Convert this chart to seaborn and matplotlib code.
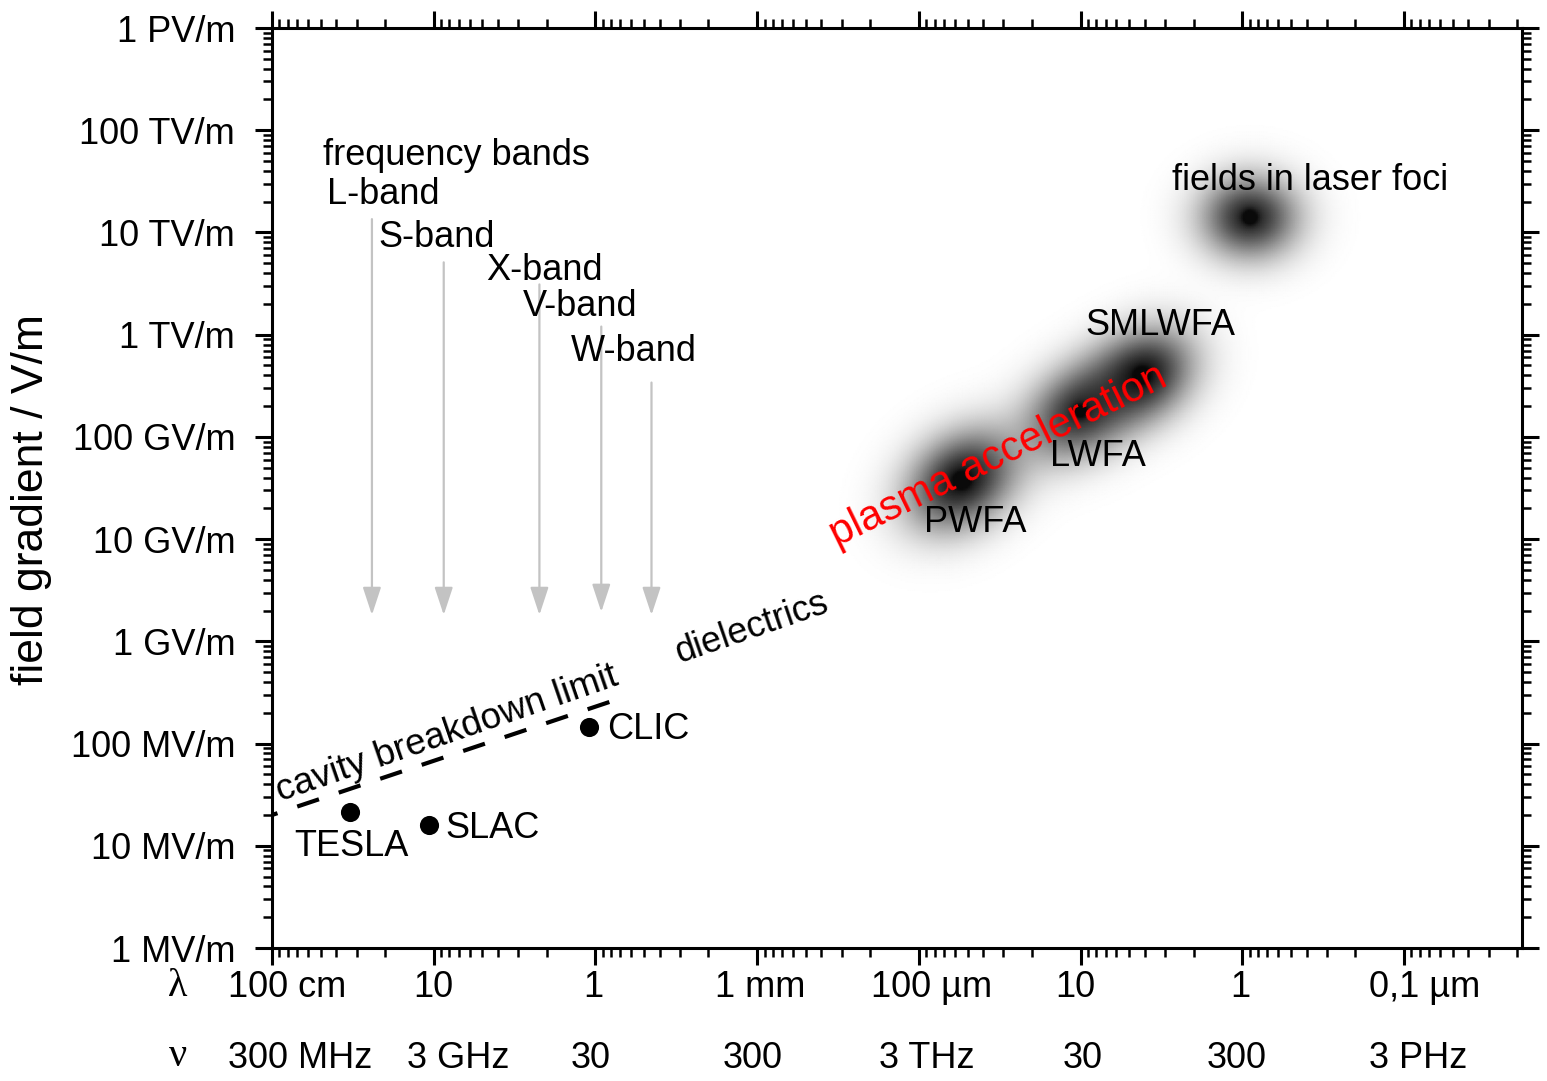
import numpy as np
import matplotlib
matplotlib.use("Agg")
import matplotlib.pyplot as plt
import seaborn as sns
import matplotlib.transforms as mtransforms
from matplotlib.ticker import LogLocator, FixedLocator, FixedFormatter, NullFormatter
from matplotlib.colors import LinearSegmentedColormap

# ---------------- data ----------------
wavelength_ticks = [1.0, 1e-1, 1e-2, 1e-3, 1e-4, 1e-5, 1e-6, 1e-7]          # m
wavelength_labels = ["100 cm", "10", "1", "1 mm", "100 µm", "10", "1", "0,1 µm"]
frequency_labels = ["300 MHz", "3 GHz", "30", "300", "3 THz", "30", "300", "3 PHz"]

gradient_ticks = [1e6, 1e7, 1e8, 1e9, 1e10, 1e11, 1e12, 1e13, 1e14, 1e15]   # V/m
gradient_labels = ["1 MV/m", "10 MV/m", "100 MV/m", "1 GV/m", "10 GV/m",
                   "100 GV/m", "1 TV/m", "10 TV/m", "100 TV/m", "1 PV/m"]

accelerators = ["TESLA", "SLAC", "CLIC"]
acc_wavelength = [0.33, 0.107, 0.011]
acc_gradient = [21.4e6, 16.0e6, 145e6]

breakdown_wavelength = [1.0, 8.2e-3]
breakdown_gradient = [20e6, 255e6]

bands = ["L-band", "S-band", "X-band", "V-band", "W-band"]
band_wavelength = [0.241, 0.0867, 0.0222, 0.0092, 0.0045]
band_top = [1.35e13, 5.1e12, 3.1e12, 1.2e12, 3.4e11]
band_bottom = [1.81e9, 1.81e9, 1.81e9, 1.94e9, 1.81e9]

blob_names = ["PWFA", "LWFA", "SMLWFA", "fields in laser foci"]
blob_wavelength = [5.41e-5, 1.0e-5, 4.17e-6, 8.95e-7]
blob_gradient = [3.79e10, 1.80e11, 4.03e11, 1.42e13]

# ---------------- style ----------------
sns.set_theme(style="ticks")
plt.rcParams["font.family"] = ["Liberation Sans", "DejaVu Sans"]
plt.rcParams["text.color"] = "black"
plt.rcParams["axes.labelcolor"] = "black"
plt.rcParams["axes.linewidth"] = 2.2
plt.rcParams["axes.edgecolor"] = "black"
plt.rcParams["xtick.color"] = "black"
plt.rcParams["ytick.color"] = "black"
plt.rcParams["xtick.labelcolor"] = "black"
plt.rcParams["ytick.labelcolor"] = "black"

FS = 26
W_PX, H_PX = 1547, 1081
fig = plt.figure(figsize=(W_PX / 100, H_PX / 100), dpi=100)
fig.patch.set_facecolor("white")
ax_rect = [272 / W_PX, 133 / H_PX, 1250 / W_PX, 920 / H_PX]
ax = fig.add_axes(ax_rect)
ax.set_facecolor("white")
ax.set_xscale("log")
ax.set_yscale("log")
x_lo_exp = -7.73
ax.set_xlim(1.0, 10 ** x_lo_exp)
ax.set_ylim(1e6, 1e15)

# ---------------- blobs (gaussian glow) ----------------
ppd_x = ax_rect[2] * W_PX / (0 - x_lo_exp)   # pixels per decade
ppd_y = ax_rect[3] * H_PX / 9.0
lx = np.linspace(-3.2, -7.3, 360)
ly = np.linspace(9.0, 14.5, 340)
LX, LY = np.meshgrid(lx, ly)
keep = np.ones_like(LX)
# (sigma along major px, sigma across px, angle deg, amplitude)
shapes = [(40, 30, 36, 0.93), (40, 29, 33, 0.82), (37, 29, 33, 0.92), (33, 28, 0, 0.86)]
for (wl, g, (smaj, smin, ang, amp)) in zip(blob_wavelength, blob_gradient, shapes):
    dxd = (np.log10(wl) - LX) * ppd_x
    dyd = (LY - np.log10(g)) * ppd_y
    t = np.deg2rad(ang)
    u = dxd * np.cos(t) + dyd * np.sin(t)
    v = -dxd * np.sin(t) + dyd * np.cos(t)
    a = amp * np.exp(-0.5 * (u ** 2 / smaj ** 2 + v ** 2 / smin ** 2))
    a += 0.3 * np.exp(-0.5 * (dxd ** 2 + dyd ** 2) / 5.0 ** 2)
    keep *= (1 - np.clip(a, 0, 0.96))
A = 1 - keep
cmap = LinearSegmentedColormap.from_list("glow", ["#ffffff", "#000000"])
ax.pcolormesh(10 ** LX, 10 ** LY, A, cmap=cmap, vmin=0, vmax=1,
              shading="gouraud", zorder=1, rasterized=True)

# ---------------- frequency band arrows ----------------
for wl, top, bot in zip(band_wavelength, band_top, band_bottom):
    ax.annotate("", xy=(wl, bot), xytext=(wl, top),
                arrowprops=dict(arrowstyle="-|>,head_length=0.85,head_width=0.28",
                                color="#c3c3c3", lw=1.6, mutation_scale=20,
                                shrinkA=0, shrinkB=0), zorder=2)

# ---------------- breakdown limit & accelerators ----------------
sns.lineplot(x=breakdown_wavelength, y=breakdown_gradient, color="black",
             lw=3.0, ax=ax, zorder=3)
ax.lines[-1].set_dashes((5.5, 5.0))
ax.lines[-1].set_dash_capstyle("butt")
sns.scatterplot(x=acc_wavelength, y=acc_gradient, color="black", s=190,
                linewidth=0, ax=ax, zorder=5)

# ---------------- texts ----------------
ax.text(0.484, 5.6e13, "frequency bands", fontsize=FS, ha="left", va="center", zorder=6)
band_text_pos = [(0.457, 2.33e13), (0.221, 9.0e12), (0.0475, 4.2e12),
                 (0.02805, 1.9e12), (0.01416, 6.8e11)]
for name, (xx, yy) in zip(bands, band_text_pos):
    ax.text(xx, yy, name, fontsize=FS, ha="left", va="center", zorder=6)

ax.text(0.3246, 0.99e7, "TESLA", fontsize=FS, ha="center", va="center", zorder=6)
ax.text(0.0851, 1.46e7, "SLAC", fontsize=FS, ha="left", va="center", zorder=6)
ax.text(8.48e-3, 1.36e8, "CLIC", fontsize=FS, ha="left", va="center", zorder=6)

ax.text(4.49e-5, 1.47e10, "PWFA", fontsize=FS, ha="center", va="center", zorder=6)
ax.text(7.80e-6, 6.4e10, "LWFA", fontsize=FS, ha="center", va="center", zorder=6)
ax.text(3.22e-6, 1.22e12, "SMLWFA", fontsize=FS, ha="center", va="center", zorder=6)
ax.text(3.81e-7, 3.19e13, "fields in laser foci", fontsize=FS, ha="center",
        va="center", zorder=6)

ax.text(0.0795, 1.02e8, "cavity breakdown limit", fontsize=26.5, rotation=19,
        rotation_mode="anchor", ha="center", va="baseline", zorder=6)
ax.text(1.03e-3, 1.10e9, "dielectrics", fontsize=26, rotation=19,
        rotation_mode="anchor", ha="center", va="baseline", zorder=6)
ax.text(3.0e-5, 5.2e10, "plasma acceleration", fontsize=30, color="red",
        rotation=26, rotation_mode="anchor", ha="center", va="baseline", zorder=7)

# ---------------- axes & ticks ----------------
ax.xaxis.set_major_locator(FixedLocator(wavelength_ticks))
ax.xaxis.set_major_formatter(FixedFormatter(wavelength_labels))
ax.xaxis.set_minor_locator(LogLocator(base=10, subs=np.arange(2, 10), numticks=60))
ax.xaxis.set_minor_formatter(NullFormatter())
ax.yaxis.set_major_locator(FixedLocator(gradient_ticks))
ax.yaxis.set_major_formatter(FixedFormatter(gradient_labels))
ax.yaxis.set_minor_locator(LogLocator(base=10, subs=np.arange(2, 10), numticks=60))
ax.yaxis.set_minor_formatter(NullFormatter())

ax.tick_params(which="both", direction="out", top=True, right=True,
               labeltop=False, labelright=False, colors="black")
ax.tick_params(which="major", length=12.5, width=2.2)
ax.tick_params(which="minor", length=6.5, width=1.8)
ax.tick_params(axis="x", which="major", labelsize=FS, pad=3)
ax.tick_params(axis="y", which="major", labelsize=FS, pad=14)
for s in ax.spines.values():
    s.set_visible(True)
    s.set_linewidth(2.2)
    s.set_color("black")

# small horizontal nudges of the wavelength / frequency labels (pixels)
lam_nudge = [15, 0, -2, 3, 13, -5, -2, 21]
nu_nudge = [28, 24, -5, -4, 8, 2, -6, 14]
fig.canvas.draw()
for lab, dx in zip(ax.get_xticklabels(), lam_nudge):
    lab.set_transform(lab.get_transform() +
                      mtransforms.ScaledTranslation(dx / 100, 0, fig.dpi_scale_trans))

ax.set_xlabel("")
ax.set_ylabel("field gradient / V/m", fontsize=32)
ax.yaxis.set_label_coords(-0.176, 0.487)

# frequency row and axis symbols
blend = mtransforms.blended_transform_factory(ax.transData, ax.transAxes)
for wl, lab, dx in zip(wavelength_ticks, frequency_labels, nu_nudge):
    ax.text(wl, -0.120, lab,
            transform=blend + mtransforms.ScaledTranslation(dx / 100, 0, fig.dpi_scale_trans),
            fontsize=FS, ha="center", va="center", clip_on=False)
ax.text(-0.0752, -0.042, "λ", transform=ax.transAxes, fontsize=29,
        family=["Liberation Serif", "DejaVu Serif"], ha="center", va="center")
ax.text(-0.0752, -0.118, "ν", transform=ax.transAxes, fontsize=29,
        family=["Liberation Serif", "DejaVu Serif"], ha="center", va="center")

fig.savefig("out.png", dpi=100, facecolor="white")
